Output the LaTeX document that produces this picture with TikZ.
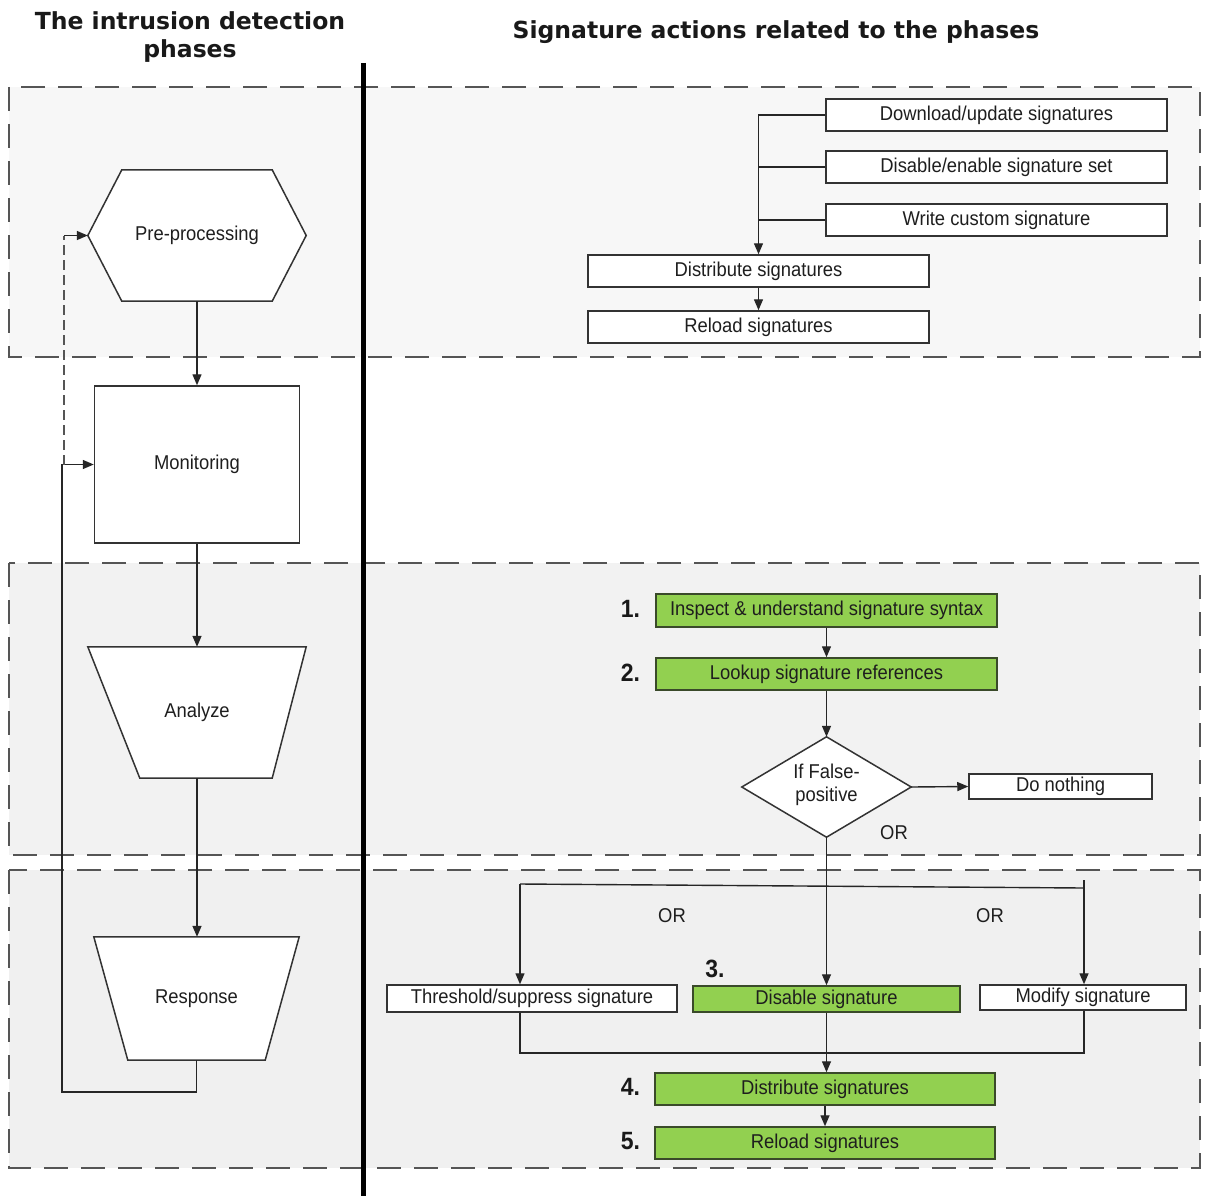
\documentclass[tikz,border=0pt]{standalone}
\usepackage{fontspec}
\setmainfont{Liberation Sans}
\newfontfamily\boxfont[FakeStretch=0.92]{Liberation Sans}
\newfontfamily\titlefont{DejaVu Sans}
\usetikzlibrary{arrows.meta}
\definecolor{linec}{HTML}{333333}
\definecolor{textc}{HTML}{1E1E1E}
\definecolor{dashc}{HTML}{555555}
\definecolor{greenf}{HTML}{92D050}
\definecolor{greenb}{HTML}{3A4A2A}
\definecolor{bandA}{HTML}{F7F7F7}
\definecolor{bandB}{HTML}{F2F2F2}
\definecolor{bandC}{HTML}{F0F0F0}
\begin{document}
\begin{tikzpicture}[x=1pt,y=-1pt,
  band/.style={draw=dashc, line width=2pt, dash pattern=on 24pt off 13pt},
  boxtxt/.style={font=\boxfont\fontsize{20pt}{23pt}\selectfont, text=textc},
  box/.style={boxtxt, draw=linec, line width=1.5pt, fill=white, inner sep=0pt, minimum height=32pt},
  gbox/.style={box, fill=greenf, draw=greenb},
  ghost/.style={inner sep=0pt},
  shapeline/.style={draw=linec, line width=1.5pt, fill=white},
  lbl/.style={boxtxt, align=center},
  conn/.style={draw=black!85, line width=1.4pt},
  arr/.style={conn, -{Triangle[length=11pt,width=9pt]}},
  dline/.style={draw=dashc, line width=1.4pt, dash pattern=on 10pt off 5pt},
  num/.style={font=\boxfont\bfseries\fontsize{25pt}{28pt}\selectfont, text=black!90},
  ttl/.style={font=\titlefont\bfseries\fontsize{23.5pt}{28pt}\selectfont, text=black!90, align=center}
]
\useasboundingbox[fill=white] (0,0) rectangle (1209,1196);

% bands
\path[band, fill=bandA] (9,87) rectangle (1200,357);
\path[band, fill=bandB] (9,563) rectangle (1200,855);
\path[band, fill=bandC] (9,870) rectangle (1200,1168);

% titles
\node[ttl] (t1) at (190,37) {The intrusion detection\\phases};
\node[ttl] (t2) at (776,32) {Signature actions related to the phases};

% divider
\draw[line width=5pt, black] (363,63) -- (363,1196);

% ---- left column ----
\node[ghost, minimum width=218pt, minimum height=131pt] (pre) at (197,235.5) {};
\path[shapeline] (pre.west) -- ([xshift=34pt]pre.north west) -- ([xshift=-34pt]pre.north east)
  -- (pre.east) -- ([xshift=-34pt]pre.south east) -- ([xshift=34pt]pre.south west) -- cycle;
\node[lbl] (preT) at (pre) {Pre-processing};

\node[box, minimum width=205pt, minimum height=157pt] (mon) at (197,464.5) {Monitoring};

\node[ghost, minimum width=218pt, minimum height=131pt] (ana) at (197,712.5) {};
\path[shapeline] (ana.north west) -- (ana.north east) -- ([xshift=-34pt]ana.south east)
  -- ([xshift=52pt]ana.south west) -- cycle;
\node[lbl] (anaT) at (ana) {Analyze};

\node[ghost, minimum width=205pt, minimum height=123pt] (res) at (196.5,998.5) {};
\path[shapeline] (res.north west) -- (res.north east) -- ([xshift=-34pt]res.south east)
  -- ([xshift=34pt]res.south west) -- cycle;
\node[lbl] (resT) at (res) {Response};

\draw[arr] (pre.south) -- (mon.north);
\draw[arr] (mon.south) -- (ana.north);
\draw[arr] (ana.south) -- (ana.south |- res.north);
\coordinate (lpb) at (62,1092);
\draw[arr] (res.south) |- (lpb) |- (mon.west);
\coordinate (dsb) at (64,464.5);
\coordinate (dst) at (64,235.5);
\draw[dline] (dsb) -- (dst);
\draw[arr] (dst) -- (pre.west);

% ---- top right ----
\node[box, minimum width=341pt] (dl) at (996.5,115) {Download/update signatures};
\node[box, minimum width=341pt] (de) at (996.5,167) {Disable/enable signature set};
\node[box, minimum width=341pt] (wc) at (996.5,220) {Write custom signature};
\node[box, minimum width=341pt] (dist1) at (758.5,271) {Distribute signatures};
\node[box, minimum width=341pt] (rel1) at (758.5,327) {Reload signatures};
\draw[arr] (dl.west) -| (dist1.north);
\draw[conn] (de.west) -- (de.west -| dist1.north);
\draw[conn] (wc.west) -- (wc.west -| dist1.north);
\draw[arr] (dist1.south) -- (rel1.north);

% ---- analyze section ----
\node[gbox, minimum width=341pt, minimum height=33pt] (insp) at (826.5,610.5) {Inspect \& understand signature syntax};
\node[gbox, minimum width=341pt] (look) at (826.5,674) {Lookup signature references};
\node[num] (n1) at (630.5,609) {1.};
\node[num] (n2) at (630.5,673) {2.};
\node[ghost, minimum width=169pt, minimum height=100pt] (fp) at (826.5,787) {};
\path[shapeline] (fp.north) -- (fp.east) -- (fp.south) -- (fp.west) -- cycle;
\node[lbl] (fpT) at (826.5,785) {If False-\\positive};
\node[box, minimum width=183pt, minimum height=25pt] (dn) at (1060.5,786.5) {Do nothing};
\draw[arr] (insp.south) -- (look.north);
\draw[arr] (look.south) -- (fp.north);
\draw[arr] (fp.east) -- (dn.west);
\node[boxtxt] (or1) at (894,833) {OR};

% ---- response section ----
\node[box, minimum width=290pt, minimum height=27pt] (thr) at (532,998.5) {Threshold/suppress signature};
\node[gbox, minimum width=267pt, minimum height=26pt] (dis) at (826.5,999) {Disable signature};
\node[box, minimum width=206pt, minimum height=25pt] (mod) at (1083,997.5) {Modify signature};
\node[num] (n3) at (715,969) {3.};
\draw[arr] (fp.south) -- (dis.north);
\coordinate (bl) at (520,884);
\coordinate (br) at (1084,888);
\coordinate (brt) at (1084,880);
\draw[conn] (bl) -- (br);
\draw[conn] (brt) -- (br);
\draw[arr] (bl) -- (bl |- thr.north);
\draw[arr] (br) -- (br |- mod.north);
\node[boxtxt] (or2) at (672,916) {OR};
\node[boxtxt] (or3) at (990,916) {OR};
\coordinate (ml) at (520,1053);
\coordinate (mr) at (1084,1053);
\draw[conn] (ml |- thr.south) -- (ml) -- (mr) -- (mr |- mod.south);
\node[gbox, minimum width=340pt] (dist2) at (825,1089) {Distribute signatures};
\node[gbox, minimum width=340pt] (rel2) at (825,1143) {Reload signatures};
\node[num] (n4) at (630.5,1087) {4.};
\node[num] (n5) at (630.5,1141) {5.};
\draw[arr] (dis.south) -- (dis.south |- dist2.north);
\draw[arr] (dist2.south) -- (rel2.north);
\end{tikzpicture}
\end{document}
